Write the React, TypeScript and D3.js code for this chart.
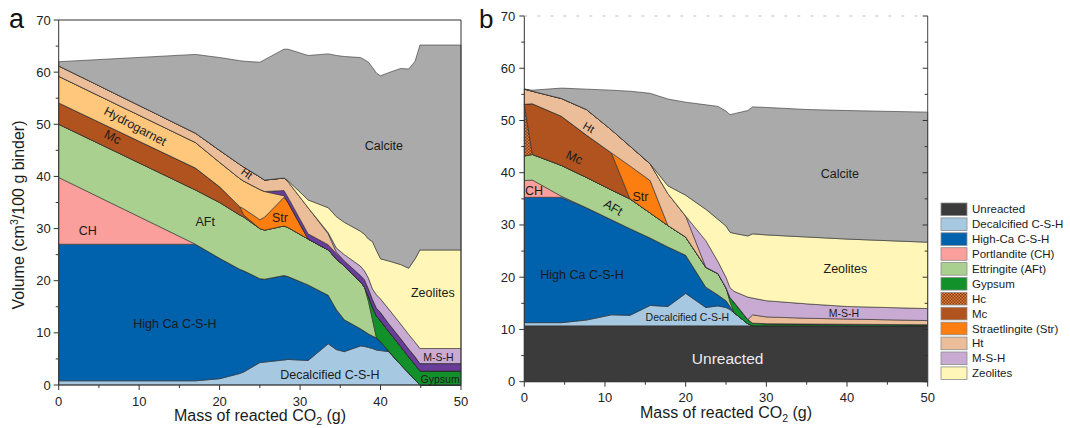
import React from 'react';
import * as d3 from 'd3';

const FONT = '"Liberation Sans", Arial, Helvetica, sans-serif';

// ---------- Panel a: phase volumes (cm3/100 g binder) vs. mass of reacted CO2 (g)
const A_CO2 = [0, 17, 20, 22.5, 23, 25, 25.6, 28, 28.5, 31, 33.5, 34.5, 35.5, 37.5, 38, 38.5, 39, 39.5, 40, 41, 42.5, 43.5, 44.3, 44.9, 50];
const A_DECAL = [0.8, 0.8, 1.2, 2.2, 2.5, 4.3, 4.4, 4.8, 4.9, 4.7, 7.9, 6.8, 6.4, 7.5, 7.4, 7.2, 7.0, 6.7, 6.6, 6.4, 3.9, 2.3, 1.0, 0, 0];
const A_HIGHCA = [26.2, 26.2, 23.1, 20.0, 19.4, 16.1, 15.9, 16.2, 15.9, 14.5, 9.3, 7.7, 6.1, 3.3, 2.9, 2.6, 2.4, 2.3, 1.7, 0.1, 0, 0, 0, 0, 0];
const A_CH = [12.8, 0, 0, 0, 0, 0, 0, 0, 0, 0, 0, 0, 0, 0, 0, 0, 0, 0, 0, 0, 0, 0, 0, 0, 0];
const A_AFT = [10.2, 10.4, 10.7, 10.4, 10.3, 9.6, 9.4, 9.5, 9.4, 8.8, 8.7, 9.7, 10.3, 9.0, 8.5, 6.2, 3.1, 0, 0, 0, 0, 0, 0, 0, 0];
const A_GYPSUM = [0, 0, 0, 0, 0, 0, 0, 0, 0, 0, 0, 0, 0, 0, 0, 1.0, 2.4, 4.2, 4.0, 3.8, 3.5, 3.1, 2.9, 2.7, 2.7];
const A_MC = [4.1, 4.2, 3.0, 1.6, 0.4, 0, 0, 0, 0, 0, 0, 0, 0, 0, 0, 0, 0, 0, 0, 0, 0, 0, 0, 0, 0];
const A_STR = [0, 0, 0, 0, 1.2, 1.7, 2.5, 5.5, 4.8, 0, 0, 0, 0, 0, 0, 0, 0, 0, 0, 0, 0, 0, 0, 0, 0];
const A_HYDROGARNET = [5.1, 4.9, 4.7, 5.4, 5.3, 5.8, 4.9, 0.3, 0, 0, 0, 0, 0, 0, 0, 0, 0, 0, 0, 0, 0, 0, 0, 0, 0];
const A_MGAL = [0, 0, 0, 0, 0, 0, 0, 1.0, 1.0, 1.0, 1.0, 1.0, 1.0, 1.2, 1.4, 1.4, 1.5, 1.5, 1.6, 1.5, 1.5, 1.5, 1.5, 1.4, 1.4];
const A_HT = [2.0, 1.8, 2.3, 2.7, 2.7, 2.4, 2.2, 2.4, 3.0, 5.0, 2.1, 0.3, 0, 0, 0, 0, 0, 0, 0, 0, 0, 0, 0, 0, 0];
const A_MSH = [0, 0, 0, 0, 0, 0, 0, 0, 0, 0, 0.2, 0.8, 1.2, 1.8, 1.7, 2.1, 2.0, 2.6, 2.6, 2.8, 2.8, 2.8, 2.8, 2.9, 2.9];
const A_ZEOLITES = [0, 0, 0, 0, 0, 0, 0, 0, 0.2, 1.5, 4.8, 6.0, 6.2, 6.7, 7.0, 7.5, 9.1, 8.5, 7.7, 9.2, 11.4, 12.7, 16.0, 18.9, 18.9];
const A_CALCITE = [0.8, 15.1, 17.8, 19.9, 20.3, 22.0, 23.1, 24.7, 25.2, 27.7, 29.5, 30.9, 31.8, 33.3, 33.5, 33.9, 33.4, 34.0, 35.1, 36.1, 37.6, 38.2, 37.9, 39.3, 39.3];

// ---------- Panel b
const B_CO2 = [0, 1, 4.6, 7.7, 10.8, 13.1, 15.6, 17.8, 20, 22.5, 24, 25, 25.5, 26, 27.7, 28.3, 30, 35, 40, 50];
const B_UNREACTED = [10.7, 10.7, 10.7, 10.7, 10.7, 10.7, 10.7, 10.7, 10.7, 10.7, 10.7, 10.7, 10.7, 10.7, 10.7, 10.7, 10.7, 10.7, 10.7, 10.7];
const B_DECAL = [0.6, 0.6, 0.6, 1.1, 2.1, 2.0, 3.9, 3.7, 6.2, 3.5, 3.8, 3.5, 3.1, 2.5, 0.4, 0, 0, 0, 0, 0];
const B_HIGHCA = [24.0, 24.0, 24.0, 21.5, 18.2, 16.6, 12.9, 11.4, 7.3, 3.9, 2.1, 1.3, 0.6, 0, 0, 0, 0, 0, 0, 0];
const B_CH = [3.2, 3.3, 0.2, 0, 0, 0, 0, 0, 0, 0, 0, 0, 0, 0, 0, 0, 0, 0, 0, 0];
const B_AFT = [4.7, 4.9, 5.9, 5.8, 5.7, 5.7, 4.8, 4.1, 3.5, 3.8, 4.1, 2.5, 0.9, 0, 0, 0, 0, 0, 0, 0];
const B_GYPSUM = [0, 0, 0, 0, 0, 0, 0, 0, 0, 0, 0, 0, 0.8, 2.0, 0.8, 0.5, 0.4, 0.35, 0.3, 0.2];
const B_HC = [9.9, 0, 0, 0, 0, 0, 0, 0, 0, 0, 0, 0, 0, 0, 0, 0, 0, 0, 0, 0];
const B_MC = [0, 9.7, 9.4, 8.1, 7.1, 0, 0, 0, 0, 0, 0, 0, 0, 0, 0, 0, 0, 0, 0, 0];
const B_STR = [0, 0, 0, 0, 0, 6.3, 6.2, 0, 0, 0, 0, 0, 0, 0, 0, 0, 0, 0, 0, 0];
const B_HT = [2.9, 2.4, 3.4, 4.9, 4.4, 3.8, 3.2, 6.1, 4.0, 0, 0, 0, 0, 0, 0, 1.6, 1.3, 1.1, 1.0, 0.8];
const B_MSH = [0, 0, 0, 0, 0, 0, 0, 0, 0, 5.1, 2.3, 2.0, 1.9, 2.1, 4.3, 3.2, 3.1, 2.75, 2.4, 2.3];
const B_ZEOLITES = [0, 0, 0, 0, 0, 0, 0, 1.5, 4.0, 6.0, 8.1, 9.8, 10.6, 11.1, 11.7, 12.3, 12.6, 12.8, 12.9, 12.7];
const B_CALCITE = [0, 0.2, 2.0, 3.9, 7.6, 10.5, 13.5, 16.6, 17.8, 20.0, 21.6, 22.0, 22.5, 22.9, 24.0, 24.3, 24.4, 24.4, 24.6, 24.9];

const X_TICKS = [0, 10, 20, 30, 40, 50];
const Y_TICKS = [0, 10, 20, 30, 40, 50, 60, 70];

const LEGEND_NAMES = [
  'Unreacted', 'Decalcified C-S-H', 'High-Ca C-S-H', 'Portlandite (CH)', 'Ettringite (AFt)', 'Gypsum',
  'Hc', 'Mc', 'Straetlingite (Str)', 'Ht', 'M-S-H', 'Zeolites',
];

const COLORS: Record<string, string> = {
  unreacted: '#3b3b3b',
  decal: '#a7c8e1',
  highCa: '#0061ad',
  ch: '#fa9f9c',
  aft: '#a9d08e',
  gypsum: '#12902a',
  hc: 'url(#hcPattern)',
  mc: '#b0531f',
  str: '#fd7e10',
  hydrogarnet: '#fec77c',
  mgal: '#6a3d9a',
  ht: '#ebbd98',
  msh: '#c9aad2',
  zeolites: '#fff6b7',
  calcite: '#aaaaaa',
};
const LEGEND_KEYS = ['unreacted', 'decal', 'highCa', 'ch', 'aft', 'gypsum', 'hc', 'mc', 'str', 'ht', 'msh', 'zeolites'];

type Layer = { key: string; values: number[] };

const LAYERS_A: Layer[] = [
  { key: 'decal', values: A_DECAL },
  { key: 'highCa', values: A_HIGHCA },
  { key: 'ch', values: A_CH },
  { key: 'aft', values: A_AFT },
  { key: 'gypsum', values: A_GYPSUM },
  { key: 'mc', values: A_MC },
  { key: 'str', values: A_STR },
  { key: 'hydrogarnet', values: A_HYDROGARNET },
  { key: 'mgal', values: A_MGAL },
  { key: 'ht', values: A_HT },
  { key: 'msh', values: A_MSH },
  { key: 'zeolites', values: A_ZEOLITES },
  { key: 'calcite', values: A_CALCITE },
];

const LAYERS_B: Layer[] = [
  { key: 'unreacted', values: B_UNREACTED },
  { key: 'decal', values: B_DECAL },
  { key: 'highCa', values: B_HIGHCA },
  { key: 'ch', values: B_CH },
  { key: 'aft', values: B_AFT },
  { key: 'gypsum', values: B_GYPSUM },
  { key: 'hc', values: B_HC },
  { key: 'mc', values: B_MC },
  { key: 'str', values: B_STR },
  { key: 'ht', values: B_HT },
  { key: 'msh', values: B_MSH },
  { key: 'zeolites', values: B_ZEOLITES },
  { key: 'calcite', values: B_CALCITE },
];

type Label = { text: string; x: number; y: number; size: number; rotate?: number; color?: string };

const LABELS_A: Label[] = [
  { text: 'Calcite', x: 40.4, y: 45.9, size: 12.5 },
  { text: 'Zeolites', x: 46.5, y: 17.7, size: 12.5 },
  { text: 'High Ca C-S-H', x: 14.45, y: 11.7, size: 12.5 },
  { text: 'Decalcified C-S-H', x: 33.7, y: 1.9, size: 12.5 },
  { text: 'M-S-H', x: 47.2, y: 5.4, size: 10.5 },
  { text: 'Gypsum', x: 47.4, y: 1.15, size: 10.5 },
  { text: 'CH', x: 3.6, y: 29.6, size: 12.5 },
  { text: 'AFt', x: 18.2, y: 31.2, size: 12.5 },
  { text: 'Str', x: 27.5, y: 32.0, size: 12.5 },
  { text: 'Hydrogarnet', x: 9.5, y: 49.6, size: 12.5, rotate: 28 },
  { text: 'Mc', x: 6.7, y: 47.5, size: 12.5, rotate: 27 },
  { text: 'Ht', x: 23.4, y: 40.6, size: 11, rotate: 36 },
];

const LABELS_B: Label[] = [
  { text: 'Calcite', x: 39.1, y: 39.8, size: 12.5 },
  { text: 'Zeolites', x: 39.8, y: 21.6, size: 12.5 },
  { text: 'High Ca C-S-H', x: 7.15, y: 20.5, size: 12.5 },
  { text: 'Decalcified C-S-H', x: 20.2, y: 12.3, size: 10.5 },
  { text: 'M-S-H', x: 39.6, y: 13.2, size: 10.5 },
  { text: 'Unreacted', x: 25.2, y: 4.5, size: 15.5, color: '#ececec' },
  { text: 'CH', x: 1.2, y: 36.5, size: 12.5 },
  { text: 'AFt', x: 11.0, y: 33.3, size: 12.5, rotate: 30 },
  { text: 'Str', x: 14.4, y: 35.4, size: 12.5 },
  { text: 'Mc', x: 6.2, y: 42.9, size: 12.5, rotate: 25 },
  { text: 'Ht', x: 8.0, y: 48.7, size: 11, rotate: 30 },
];

type Scale = d3.ScaleLinear<number, number>;

function StackedAreas({ xs, layers, x, y }: { xs: number[]; layers: Layer[]; x: Scale; y: Scale }) {
  const rows = xs.map((v, i) => {
    const r: Record<string, number> = { co2: v };
    layers.forEach((l) => (r[l.key] = l.values[i]));
    return r;
  });
  const series = d3.stack<Record<string, number>>().keys(layers.map((l) => l.key))(rows);
  const area = d3
    .area<d3.SeriesPoint<Record<string, number>>>()
    .x((d) => x(d.data.co2))
    .y0((d) => y(d[0]))
    .y1((d) => y(d[1]));
  return (
    <g>
      {series.map((s) => (
        <path
          key={s.key}
          d={area(s) || ''}
          fill={COLORS[s.key]}
          stroke="#2e2e2e"
          strokeWidth={0.6}
          strokeLinejoin="round"
        />
      ))}
    </g>
  );
}

function Labels({ labels, x, y }: { labels: Label[]; x: Scale; y: Scale }) {
  return (
    <g fontFamily={FONT}>
      {labels.map((l) => (
        <text
          key={l.text}
          transform={`translate(${x(l.x)},${y(l.y)}) rotate(${l.rotate || 0})`}
          textAnchor="middle"
          dominantBaseline="central"
          fontSize={l.size}
          fill={l.color || '#1b1b1b'}
        >
          {l.text}
        </text>
      ))}
    </g>
  );
}

function Axes({ x, y, labelGap, xLabelY, mirror }: { x: Scale; y: Scale; labelGap: number; xLabelY: number; mirror: boolean }) {
  const [x0, x1] = x.range();
  const [y0, y1] = y.range();
  const xMinor = d3.range(5, 50, 10);
  const yMinor = d3.range(5, 70, 10);
  return (
    <g fontFamily={FONT} fill="#222">
      {/* frame */}
      <line x1={x0} x2={x1} y1={y0} y2={y0} stroke="#333" strokeWidth={1} />
      <line x1={x0} x2={x0} y1={y0} y2={y1} stroke="#333" strokeWidth={1} />
      {mirror ? (
        <>
          <line x1={x0} x2={x1} y1={y1} y2={y1} stroke="#bdbdbd" strokeWidth={1} strokeDasharray="3 10" />
          <line x1={x1} x2={x1} y1={y0} y2={y1} stroke="#444" strokeWidth={1} />
          {Y_TICKS.map((t) => (
            <line key={'r' + t} x1={x1} x2={x1 - 5} y1={y(t)} y2={y(t)} stroke="#333" />
          ))}
          {yMinor.map((t) => (
            <line key={'rm' + t} x1={x1} x2={x1 - 3} y1={y(t)} y2={y(t)} stroke="#333" />
          ))}
        </>
      ) : (
        <>
          <line x1={x0} x2={x1} y1={y1} y2={y1} stroke="#333" strokeWidth={1} />
          <line x1={x1} x2={x1} y1={y0} y2={y1} stroke="#333" strokeWidth={1} />
        </>
      )}
      {X_TICKS.map((t) => (
        <g key={'x' + t}>
          <line x1={x(t)} x2={x(t)} y1={y0} y2={y0 + 5} stroke="#333" />
          <text x={x(t)} y={xLabelY} textAnchor="middle" fontSize={13}>
            {t}
          </text>
        </g>
      ))}
      {xMinor.map((t) => (
        <line key={'xm' + t} x1={x(t)} x2={x(t)} y1={y0} y2={y0 + 3} stroke="#333" />
      ))}
      {Y_TICKS.map((t) => (
        <g key={'y' + t}>
          <line x1={x0} x2={x0 - 5} y1={y(t)} y2={y(t)} stroke="#333" />
          <text x={x0 - labelGap} y={y(t)} textAnchor="end" dominantBaseline="central" fontSize={13}>
            {t}
          </text>
        </g>
      ))}
      {yMinor.map((t) => (
        <line key={'ym' + t} x1={x0} x2={x0 - 3} y1={y(t)} y2={y(t)} stroke="#333" />
      ))}
    </g>
  );
}

function XTitle({ cx, y }: { cx: number; y: number }) {
  return (
    <text x={cx} y={y} textAnchor="middle" fontFamily={FONT} fontSize={16} fill="#1b1b1b">
      Mass of reacted CO
      <tspan fontSize={10.5} dy={4}>2</tspan>
      <tspan dy={-4}> (g)</tspan>
    </text>
  );
}

export default function App() {
  const xA = d3.scaleLinear().domain([0, 50]).range([58.7, 461]);
  const yA = d3.scaleLinear().domain([0, 70]).range([385, 20]);
  const xB = d3.scaleLinear().domain([0, 50]).range([524.3, 927.7]);
  const yB = d3.scaleLinear().domain([0, 70]).range([381.7, 16]);

  const legendTop = 209.3;
  const legendStep = 14.9;

  return (
    <svg
      width={1070}
      height={428}
      viewBox="0 0 1070 428"
      style={{ position: 'absolute', left: 0, top: 0, background: '#fff' }}
    >
      <defs>
        <pattern id="hcPattern" width={3} height={3} patternUnits="userSpaceOnUse">
          <rect width={3} height={3} fill="#8a3a12" />
          <rect width={1.5} height={1.5} fill="#e0833a" />
          <rect x={1.5} y={1.5} width={1.5} height={1.5} fill="#e0833a" />
        </pattern>
      </defs>

      {/* panel a */}
      <StackedAreas xs={A_CO2} layers={LAYERS_A} x={xA} y={yA} />
      <Labels labels={LABELS_A} x={xA} y={yA} />
      <Axes x={xA} y={yA} labelGap={8} xLabelY={405.5} mirror={false} />
      <XTitle cx={260} y={421} />
      <text
        transform="translate(24,215) rotate(-90)"
        textAnchor="middle"
        fontFamily={FONT}
        fontSize={16}
        fill="#1b1b1b"
      >
        Volume (cm
        <tspan fontSize={10.5} dy={-6}>3</tspan>
        <tspan dy={6}>/100 g binder)</tspan>
      </text>
      <text x={9} y={28} fontFamily={FONT} fontSize={27} fill="#111">
        a
      </text>

      {/* panel b */}
      <StackedAreas xs={B_CO2} layers={LAYERS_B} x={xB} y={yB} />
      <Labels labels={LABELS_B} x={xB} y={yB} />
      <Axes x={xB} y={yB} labelGap={9} xLabelY={401.5} mirror={true} />
      <XTitle cx={726} y={417.5} />
      <text x={479} y={28} fontFamily={FONT} fontSize={26} fill="#111">
        b
      </text>

      {/* legend */}
      <g fontFamily={FONT}>
        {LEGEND_KEYS.map((k, i) => (
          <g key={k}>
            <rect
              x={941}
              y={legendTop + i * legendStep - 6.3}
              width={26}
              height={12.6}
              fill={COLORS[k]}
              stroke="#8c8c8c"
              strokeWidth={0.8}
            />
            <text x={972} y={legendTop + i * legendStep} dominantBaseline="central" fontSize={11.5} fill="#1b1b1b">
              {LEGEND_NAMES[i]}
            </text>
          </g>
        ))}
      </g>
    </svg>
  );
}
